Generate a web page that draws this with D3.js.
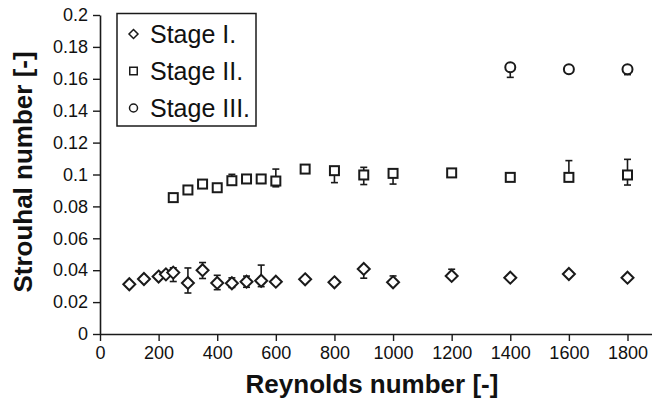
<!DOCTYPE html>
<html>
<head>
<meta charset="utf-8">
<script src="https://cdn.jsdelivr.net/npm/d3@7"></script>
<style>
  html, body { margin: 0; padding: 0; background: #fff; }
  svg { display: block; font-family: "Liberation Sans", Arial, sans-serif; }
</style>
</head>
<body>
<svg id="chart" width="652" height="408"></svg>
<script>
// ---- Data ----
const stage1Re = [100, 150, 200, 225, 250, 300, 350, 400, 450, 500, 550, 600, 700, 800, 900, 1000, 1200, 1400, 1600, 1800];
const stage1St = [0.0312, 0.0345, 0.036, 0.0374, 0.0385, 0.032, 0.040, 0.032, 0.0318, 0.0328, 0.0334, 0.0328, 0.0343, 0.0324, 0.0408, 0.0324, 0.0364, 0.0353, 0.0376, 0.0353];
const stage1ErrUp   = [0, 0, 0, 0, 0.003, 0.0094, 0.0048, 0.0048, 0.0034, 0.0035, 0.0098, 0, 0, 0, 0, 0.004, 0.0042, 0, 0, 0];
const stage1ErrDown = [0, 0, 0, 0, 0.0056, 0.0063, 0.0052, 0.0042, 0.0026, 0.0035, 0.0037, 0, 0, 0, 0.0058, 0, 0, 0, 0, 0];

const stage2Re = [250, 300, 350, 400, 450, 500, 550, 600, 700, 800, 900, 1000, 1200, 1400, 1600, 1800];
const stage2St = [0.0855, 0.0903, 0.094, 0.0917, 0.0961, 0.0972, 0.0972, 0.0959, 0.1034, 0.1024, 0.0997, 0.1007, 0.101, 0.0982, 0.0982, 0.0997];
const stage2ErrUp   = [0, 0, 0, 0, 0.004, 0.0025, 0.0025, 0.0075, 0, 0, 0.0048, 0, 0, 0, 0.0105, 0.0098];
const stage2ErrDown = [0, 0, 0, 0, 0.001, 0.0023, 0.0027, 0.0036, 0, 0.0075, 0.006, 0.0067, 0, 0, 0, 0.0063];

const stage3Re = [1400, 1600, 1800];
const stage3St = [0.1672, 0.166, 0.166];
const stage3ErrUp   = [0, 0, 0];
const stage3ErrDown = [0.0063, 0, 0.0034];

const seriesNames = ["Stage I.", "Stage II.", "Stage III."];
const seriesShapes = ["diamond", "square", "circle"];

const xTicks = [0, 200, 400, 600, 800, 1000, 1200, 1400, 1600, 1800];
const yTicks = [0, 0.02, 0.04, 0.06, 0.08, 0.1, 0.12, 0.14, 0.16, 0.18, 0.2];
const yTickLabels = ["0", "0.02", "0.04", "0.06", "0.08", "0.1", "0.12", "0.14", "0.16", "0.18", "0.2"];

const xTitle = "Reynolds number [-]";
const yTitle = "Strouhal number [-]";

// ---- Build series table ----
const series = [
  { name: seriesNames[0], shape: seriesShapes[0], re: stage1Re, st: stage1St, up: stage1ErrUp, dn: stage1ErrDown },
  { name: seriesNames[1], shape: seriesShapes[1], re: stage2Re, st: stage2St, up: stage2ErrUp, dn: stage2ErrDown },
  { name: seriesNames[2], shape: seriesShapes[2], re: stage3Re, st: stage3St, up: stage3ErrUp, dn: stage3ErrDown }
];

// ---- Layout ----
const svg = d3.select("#chart");
const x0 = 100, x1800 = 627.5;
const x = d3.scaleLinear().domain([0, 1900]).range([x0, x0 + (x1800 - x0) * 1900 / 1800]);
const y = d3.scaleLinear().domain([0, 0.2]).range([334, 15]);
const ink = "#1a1a1a";

// Axes
const xAxis = d3.axisBottom(x).tickValues(xTicks).tickSizeInner(7).tickSizeOuter(0).tickPadding(5).tickFormat(d3.format("d"));
const gx = svg.append("g").attr("transform", `translate(0,${y(0)})`).call(xAxis);
const yAxis = d3.axisLeft(y).tickValues(yTicks).tickSizeInner(7).tickSizeOuter(0).tickPadding(5)
  .tickFormat((d, i) => yTickLabels[i]);
const gy = svg.append("g").attr("transform", `translate(${x0},0)`).call(yAxis);

[gx, gy].forEach(g => {
  g.select(".domain").attr("stroke", ink).attr("stroke-width", 1.6);
  g.selectAll(".tick line").attr("stroke", ink).attr("stroke-width", 1.4);
  g.selectAll(".tick text").attr("fill", "#111").style("font-size", "18px").style("font-family", "'Liberation Sans', Arial, sans-serif");
});

// Axis titles
svg.append("text")
  .attr("x", 372).attr("y", 393)
  .attr("text-anchor", "middle")
  .style("font-size", "26px").style("font-weight", "bold").attr("fill", "#111")
  .text(xTitle);
svg.append("text")
  .attr("transform", "translate(32,172) rotate(-90)")
  .attr("text-anchor", "middle")
  .style("font-size", "26px").style("font-weight", "bold").attr("fill", "#111")
  .text(yTitle);

// Marker drawing
function drawMarker(g, shape, size) {
  if (shape === "diamond") {
    const h = size / 2;
    g.append("path").attr("d", `M0,${-h}L${h},0L0,${h}L${-h},0Z`);
  } else if (shape === "square") {
    const h = size / 2;
    g.append("rect").attr("x", -h).attr("y", -h).attr("width", size).attr("height", size);
  } else {
    g.append("circle").attr("r", size / 2);
  }
}
const markerSize = { diamond: 12, square: 9, circle: 10 };

// Error bars and points
const plot = svg.append("g");
series.forEach(s => {
  const pts = s.re.map((r, i) => ({ re: r, st: s.st[i], up: s.up[i], dn: s.dn[i] }));
  const eb = plot.append("g").attr("stroke", ink).attr("stroke-width", 1.6);
  pts.forEach(p => {
    if (p.up > 0 || p.dn > 0) {
      const cx = x(p.re);
      const yt = y(p.st + p.up), yb = y(p.st - p.dn);
      eb.append("line").attr("x1", cx).attr("x2", cx).attr("y1", yt).attr("y2", yb);
      if (p.up > 0) eb.append("line").attr("x1", cx - 3.5).attr("x2", cx + 3.5).attr("y1", yt).attr("y2", yt);
      if (p.dn > 0) eb.append("line").attr("x1", cx - 3.5).attr("x2", cx + 3.5).attr("y1", yb).attr("y2", yb);
    }
  });
  pts.forEach(p => {
    const g = plot.append("g")
      .attr("transform", `translate(${x(p.re)},${y(p.st)})`)
      .attr("fill", "#fff").attr("stroke", ink).attr("stroke-width", 2);
    drawMarker(g, s.shape, markerSize[s.shape]);
  });
});

// Legend
const legend = svg.append("g");
legend.append("rect")
  .attr("x", 117).attr("y", 13.5).attr("width", 139).attr("height", 112.5)
  .attr("fill", "#fff").attr("stroke", ink).attr("stroke-width", 1.5);
const legendMarkerSize = { diamond: 9, square: 7.5, circle: 8 };
series.forEach((s, i) => {
  const cy = 34 + i * 37;
  const g = legend.append("g").attr("transform", `translate(133.5,${cy})`)
    .attr("fill", "#fff").attr("stroke", ink).attr("stroke-width", 1.5);
  drawMarker(g, s.shape, legendMarkerSize[s.shape]);
  legend.append("text")
    .attr("x", 150).attr("y", cy + 9)
    .style("font-size", "25px").attr("fill", "#111")
    .text(s.name);
});
</script>
</body>
</html>
